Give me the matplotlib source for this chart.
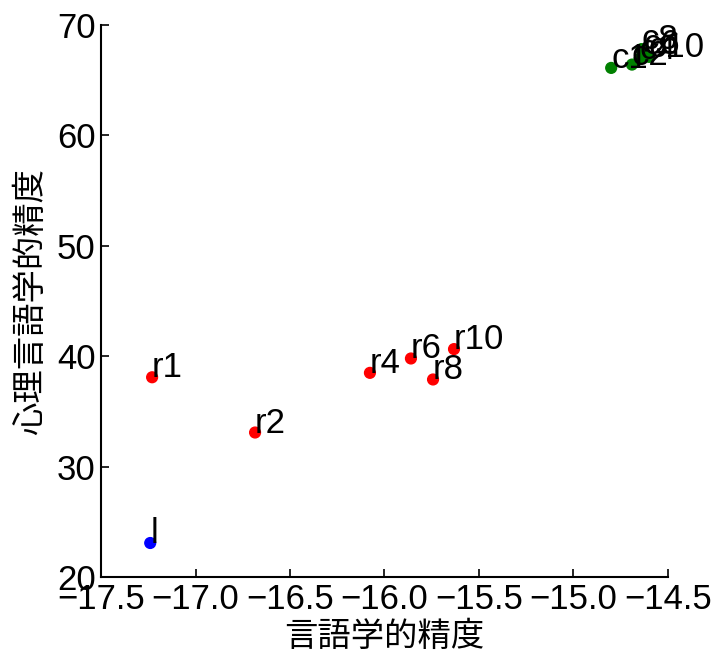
import matplotlib
matplotlib.use("Agg")
import matplotlib.pyplot as plt

plt.rcParams['font.family'] = ['Liberation Sans', 'Noto Sans CJK JP']

labels = ["l", "r1", "r2", "r4", "r6", "r8", "r10",
          "c1", "c2", "c4", "c6", "c8", "c10"]
x_vals = [-17.24, -17.23, -16.685, -16.077, -15.86, -15.743, -15.632,
          -14.80, -14.69, -14.65, -14.63, -14.64, -14.60]
y_vals = [23.1, 38.1, 33.1, 38.5, 39.8, 37.9, 40.65,
          66.1, 66.4, 66.9, 67.4, 67.8, 67.1]
colors = ["blue"] + ["red"] * 6 + ["green"] * 6

fig = plt.figure(figsize=(7.12, 6.53), dpi=100)
ax = fig.add_axes([0.142, 0.116, 0.796, 0.846])

ax.scatter(x_vals, y_vals, c=colors, s=60, zorder=2)
for lab, x, y in zip(labels, x_vals, y_vals):
    ax.text(x, y, lab, fontsize=25, zorder=3)

ax.set_xlim(-17.5, -14.5)
ax.set_ylim(20, 70)
ax.set_xticks([-17.5, -17.0, -16.5, -16.0, -15.5, -15.0, -14.5])
ax.set_yticks([20, 30, 40, 50, 60, 70])
ax.tick_params(direction='in', labelsize=25, length=6, width=1.2, pad=4)
for s in ['top', 'right']:
    ax.spines[s].set_visible(False)
for s in ['left', 'bottom']:
    ax.spines[s].set_linewidth(1.5)

ax.set_xlabel("言語学的精度", fontsize=24, family=['Noto Sans CJK JP'], labelpad=2)
ax.set_ylabel("心理言語学的精度", fontsize=24, family=['Noto Sans CJK JP'], labelpad=6)

fig.savefig("out.png", dpi=100)
